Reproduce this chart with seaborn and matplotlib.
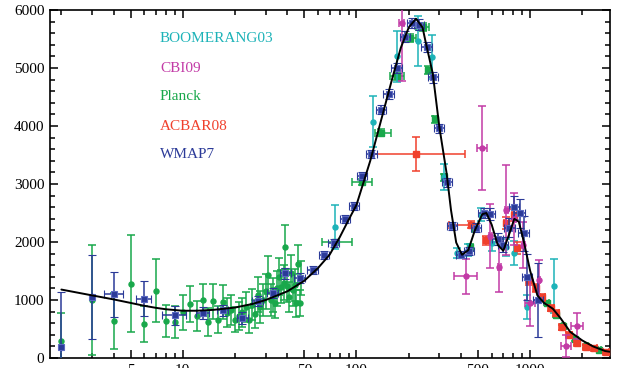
#!/usr/bin/env python3
"""CMB temperature power spectrum: several experiments against the best-fit model."""

import matplotlib
matplotlib.use("Agg")
import matplotlib.pyplot as plt
import matplotlib.ticker as mticker
import seaborn as sns
import pandas as pd

# Best-fit model curve (ell, D_ell in uK^2)
model_ell = [2, 3, 4, 5, 6, 7, 8, 10, 12, 15, 20, 25, 30, 40, 50, 60, 70, 80, 90, 100,
             120, 140, 160, 180, 200, 220, 240, 250, 275, 300, 330, 350, 375, 405, 440,
             480, 530, 560, 600, 650, 700, 760, 810, 860, 920, 1000, 1100, 1200, 1350,
             1500, 1700, 2000, 2300, 2700, 3000]
model_dl = [1180, 1080, 1010, 950, 900, 865, 840, 815, 815, 830, 870, 930, 1000, 1150, 1330,
            1550, 1780, 2080, 2380, 2640, 3400, 4150, 4800, 5350, 5700, 5850, 5700, 5450,
            4900, 3980, 3190, 2550, 1990, 1780, 1860, 2200, 2480, 2500, 2300, 1950, 1850,
            2150, 2400, 2350, 2000, 1500, 1080, 950, 850, 680, 450, 300, 200, 120, 100]

# BOOMERANG03
boom_ell = [75, 124, 172, 226, 273, 320, 380, 440, 523, 605, 728, 809, 961, 1374]
boom_dl = [2260, 4070, 5200, 5470, 5190, 3120, 1810, 1860, 2470, 1980, 1910, 1810, 880, 1240]
boom_err = [380, 440, 440, 430, 380, 220, 90, 100, 110, 130, 150, 200, 200, 470]

# CBI09
cbi_ell = [182, 429, 530, 589, 664, 728, 809, 912, 1000, 1125, 1610, 1862]
cbi_dl = [5780, 1410, 3620, 2100, 1570, 2550, 2400, 1950, 950, 1340, 210, 550]
cbi_err = [1000, 300, 720, 550, 430, 780, 450, 400, 400, 350, 190, 230]
cbi_xerr = [6, 64, 36, 12, 12, 14, 14, 16, 70, 20, 110, 140]

# Planck, unbinned low ell
planck_lo_ell = list(range(2, 49))
planck_lo_dl = [290, 1000, 640, 1280, 590, 1160, 640, 620, 790, 930, 720, 1000, 620, 980,
                660, 970, 780, 830, 660, 720, 790, 880, 650, 920, 760, 1090, 880, 1000,
                1150, 1430, 1000, 1090, 950, 1200, 1400, 1230, 1300, 1910, 1250, 1050,
                1460, 1170, 1260, 940, 1620, 950, 1380]
planck_lo_err = [490, 950, 480, 840, 310, 540, 270, 270, 300, 310, 260, 280, 240, 300,
                 230, 290, 250, 260, 220, 240, 250, 260, 220, 270, 240, 300, 270, 280,
                 300, 330, 270, 290, 260, 300, 320, 290, 300, 380, 290, 260, 310, 270,
                 280, 240, 330, 230, 300]

# Planck, binned
planck_hi_ell = [75, 108, 139, 172, 204, 240, 259, 284, 320, 449, 482, 1250, 1400, 1550, 1800, 2100, 2500]
planck_hi_dl = [2000, 3030, 3880, 4860, 5520, 5710, 4970, 4120, 3120, 1910, 2240, 950, 740, 560, 320, 200, 140]
planck_hi_err = [40, 50, 60, 60, 70, 70, 70, 60, 60, 60, 60, 40, 35, 30, 25, 20, 20]
planck_hi_xlo = [12, 14, 12, 17, 16, 19, 8, 8, 8, 10, 10, 30, 30, 30, 40, 40, 50]
planck_hi_xhi = [19, 15, 18, 16, 17, 21, 8, 8, 8, 10, 10, 30, 30, 30, 40, 40, 50]

# ACBAR08
acbar_ell = [221, 455, 558, 728, 809, 842, 986, 1081, 1172, 1320, 1410, 1527, 1675, 1862, 2098, 2333, 2735]
acbar_dl = [3520, 2300, 2030, 2330, 2470, 1900, 1340, 1200, 1050, 860, 780, 530, 400, 260, 190, 170, 100]
acbar_err = [290, 60, 80, 100, 100, 100, 80, 70, 60, 50, 50, 40, 40, 30, 30, 30, 25]
acbar_xlo = [101, 112, 25, 25, 25, 25, 40, 40, 40, 50, 50, 60, 60, 70, 80, 90, 110]
acbar_xhi = [202, 50, 35, 25, 25, 25, 40, 40, 40, 50, 50, 60, 60, 70, 80, 90, 110]

# WMAP7
wmap_ell = [2, 3, 4, 6, 9, 13, 17, 22, 27, 33, 39, 47, 56, 65, 74, 86, 97, 108, 122, 139,
            153, 170, 191, 210, 230, 253, 277, 300, 333, 355, 400, 445, 490, 540, 590, 650,
            700, 760, 810, 870, 920, 960, 1110]
wmap_dl = [190, 1050, 1100, 1020, 740, 780, 820, 690, 980, 1120, 1460, 1380, 1520, 1780,
           1990, 2400, 2620, 3140, 3520, 4280, 4550, 5000, 5540, 5780, 5750, 5360, 4840,
           3960, 3030, 2280, 1780, 1840, 2250, 2500, 2480, 2050, 1950, 2250, 2600, 2500,
           2150, 1400, 1000]
wmap_err = [940, 725, 385, 300, 165, 100, 100, 100, 90, 90, 90, 80, 70, 70, 70, 70, 70,
            70, 70, 80, 80, 80, 90, 90, 90, 90, 90, 80, 80, 70, 60, 70, 80, 90, 100, 110,
            130, 160, 200, 250, 300, 400, 640]
wmap_xerr = [0, 0, 0.5, 0.6, 1.4, 1.1, 1.3, 1.6, 2, 2.3, 2.7, 3.3, 4, 4.5, 5.2, 6, 6.8,
             7.5, 8.5, 9.7, 10.7, 12, 13, 15, 16, 18, 19, 21, 23, 25, 28, 31, 34, 38, 41,
             45, 49, 53, 57, 61, 64, 67, 78]

colors = {
    "BOOMERANG03": "#1db3b8",
    "CBI09": "#c23aa6",
    "Planck": "#19a84b",
    "ACBAR08": "#f0402c",
    "WMAP7": "#2b3a98",
}

sns.set_style("ticks")
plt.rcParams["font.family"] = ["Liberation Serif", "DejaVu Serif"]
plt.rcParams["mathtext.fontset"] = "stix"

fig = plt.figure(figsize=(6.21, 3.68), dpi=100)
ax = fig.add_axes([50 / 621, 1 - 358 / 368, 560 / 621, 348 / 368])

bar_kw = dict(capsize=2.6, elinewidth=1.1, capthick=1.1, linestyle="none")

ax.errorbar(planck_lo_ell, planck_lo_dl, yerr=planck_lo_err, fmt="o", ms=3.6,
            color=colors["Planck"], zorder=3, **bar_kw)
ax.errorbar(planck_hi_ell, planck_hi_dl, yerr=planck_hi_err,
            xerr=[planck_hi_xlo, planck_hi_xhi], fmt="s", ms=4.5,
            color=colors["Planck"], zorder=3, **bar_kw)
ax.errorbar(boom_ell, boom_dl, yerr=boom_err, fmt="o", ms=3.6,
            color=colors["BOOMERANG03"], zorder=4, **bar_kw)
ax.errorbar(acbar_ell, acbar_dl, yerr=acbar_err, xerr=[acbar_xlo, acbar_xhi],
            fmt="s", ms=4, color=colors["ACBAR08"], zorder=4, **bar_kw)
ax.errorbar(cbi_ell, cbi_dl, yerr=cbi_err, xerr=cbi_xerr, fmt="o", ms=3.6,
            color=colors["CBI09"], zorder=5, **bar_kw)
ax.errorbar(wmap_ell, wmap_dl, yerr=wmap_err, xerr=wmap_xerr, fmt="s", ms=5,
            mec="#5a68c0", mew=0.8, color=colors["WMAP7"], zorder=5, **bar_kw)

model = pd.DataFrame({"ell": model_ell, "dl": model_dl})
sns.lineplot(data=model, x="ell", y="dl", color="black", lw=1.4, ax=ax, zorder=6)

ax.set_xscale("log")
ax.set_xlim(1.72, 2880)
ax.set_ylim(0, 6000)
ax.set_xlabel("")
ax.set_ylabel("")

ax.xaxis.set_major_locator(mticker.FixedLocator([5, 10, 50, 100, 500, 1000]))
ax.xaxis.set_major_formatter(mticker.FixedFormatter(["5", "10", "50", "100", "500", "1000"]))
ax.xaxis.set_minor_locator(mticker.FixedLocator(
    [2, 3, 4, 6, 7, 8, 9, 20, 30, 40, 60, 70, 80, 90, 200, 300, 400, 600, 700, 800, 900, 2000]))
ax.xaxis.set_minor_formatter(mticker.NullFormatter())
ax.yaxis.set_major_locator(mticker.MultipleLocator(1000))
ax.yaxis.set_minor_locator(mticker.MultipleLocator(200))

ax.tick_params(which="both", direction="in", top=True, right=True, width=1.1,
               labelsize=11, colors="black", pad=4)
ax.tick_params(which="major", length=6)
ax.tick_params(which="minor", length=3.5)
for spine in ax.spines.values():
    spine.set_linewidth(1.2)
    spine.set_color("black")

labels = ["BOOMERANG03", "CBI09", "Planck", "ACBAR08", "WMAP7"]
label_y = [39, 68, 97, 126, 154]
for name, py in zip(labels, label_y):
    fig.text(160 / 621, 1 - py / 368, name, color=colors[name], fontsize=11, va="center", ha="left")

fig.savefig("out.png", dpi=100, facecolor="white")
